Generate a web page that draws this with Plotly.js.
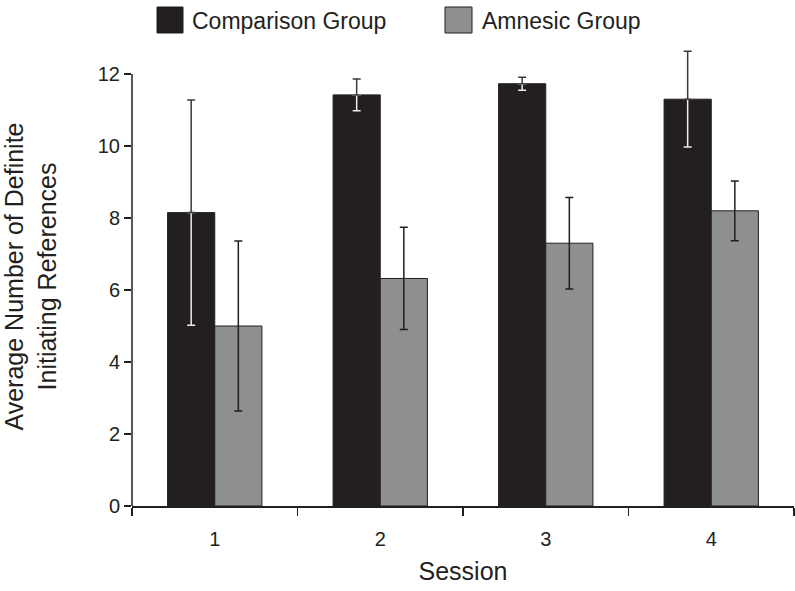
<!DOCTYPE html>
<html>
<head>
<meta charset="utf-8">
<script src="https://cdn.plot.ly/plotly-3.0.1.min.js"></script>
<style>
  html, body { margin: 0; padding: 0; background: #fff; }
  #chart { width: 795px; height: 591px; }
</style>
</head>
<body>
<div id="chart"></div>
<script>
const sessions = ["1", "2", "3", "4"];
const comparison = [8.15, 11.42, 11.73, 11.3];
const comparisonErr = [3.13, 0.44, 0.18, 1.33];
const amnesic = [5.0, 6.32, 7.3, 8.2];
const amnesicErr = [2.36, 1.42, 1.27, 0.83];
const yTicks = [0, 2, 4, 6, 8, 10, 12];

const ink = "#231f20";
const font = "Liberation Sans, Arial, sans-serif";

// comparison bars carry the white lower half of the error bar
const compBars = {
  type: "bar", x: sessions, y: comparison, name: "Comparison Group",
  offsetgroup: "a", showlegend: false,
  marker: {color: ink, line: {color: ink, width: 1}},
  error_y: {type: "data", symmetric: false, array: [0, 0, 0, 0],
            arrayminus: comparisonErr, color: "#ececec", thickness: 1.5, width: 4}
};

// transparent twin draws the dark upper half on top
const compUpper = {
  type: "bar", x: sessions, y: comparison, offsetgroup: "a", showlegend: false,
  marker: {color: "rgba(0,0,0,0)", line: {width: 0}},
  error_y: {type: "data", symmetric: false, array: comparisonErr,
            arrayminus: [0, 0, 0, 0], color: "#3a3a3a", thickness: 1.5, width: 4}
};

const amnBars = {
  type: "bar", x: sessions, y: amnesic, name: "Amnesic Group",
  offsetgroup: "b", showlegend: false,
  marker: {color: "#8e8f91", line: {color: ink, width: 1}},
  error_y: {type: "data", array: amnesicErr, color: ink, thickness: 1.5, width: 4}
};

// legend drawn by hand so the swatches are as big as in the figure
const mTop = 47, mBottom = 85, mLeft = 132;
const plotH = 591 - mTop - mBottom;
function px(x) { return (x - mLeft) / 662; }
function py(y) { return (591 - mBottom - y) / plotH; }

const layout = {
  width: 795, height: 591,
  margin: {l: mLeft, r: 1, t: mTop, b: mBottom},
  paper_bgcolor: "#fff", plot_bgcolor: "#fff",
  font: {family: font, color: ink, size: 20},
  barmode: "group", bargap: 0.43, bargroupgap: 0,
  showlegend: false,
  xaxis: {
    type: "category", range: [-0.5, 3.5],
    showline: true, linecolor: ink, linewidth: 1.5,
    ticks: "outside", tickson: "boundaries", ticklen: 8, tickwidth: 1.5, tickcolor: ink,
    ticklabelstandoff: 14,
    tickfont: {size: 20},
    showgrid: false, zeroline: false,
    title: {text: "Session", font: {size: 25}, standoff: 14}
  },
  yaxis: {
    // range runs a bit past 12 so the tallest error bar is not clipped;
    // the axis line itself stops at 12 (drawn as a shape below)
    range: [0, 12.75], tickvals: yTicks,
    showline: false,
    ticks: "outside", ticklen: 7, tickwidth: 1.5, tickcolor: ink,
    tickfont: {size: 20},
    showgrid: false, zeroline: false,
    title: {text: "Average Number of Definite<br>Initiating References", font: {size: 25}, standoff: 36}
  },
  shapes: [
    {type: "line", xref: "paper", yref: "y", x0: 0, x1: 0, y0: 0, y1: 12,
     line: {color: ink, width: 1.5}},
    {type: "rect", xref: "paper", yref: "paper", x0: px(157), x1: px(183), y0: py(33), y1: py(7),
     fillcolor: ink, line: {color: ink, width: 1}},
    {type: "rect", xref: "paper", yref: "paper", x0: px(445), x1: px(472), y0: py(33), y1: py(7),
     fillcolor: "#8e8f91", line: {color: ink, width: 1}}
  ],
  annotations: [
    {xref: "paper", yref: "paper", x: px(190), y: py(21), xanchor: "left", yanchor: "middle",
     text: "Comparison Group", showarrow: false, font: {size: 23}},
    {xref: "paper", yref: "paper", x: px(480), y: py(21), xanchor: "left", yanchor: "middle",
     text: "Amnesic Group", showarrow: false, font: {size: 23}}
  ]
};

Plotly.newPlot("chart", [compBars, compUpper, amnBars], layout, {displayModeBar: false, staticPlot: true});
</script>
</body>
</html>
